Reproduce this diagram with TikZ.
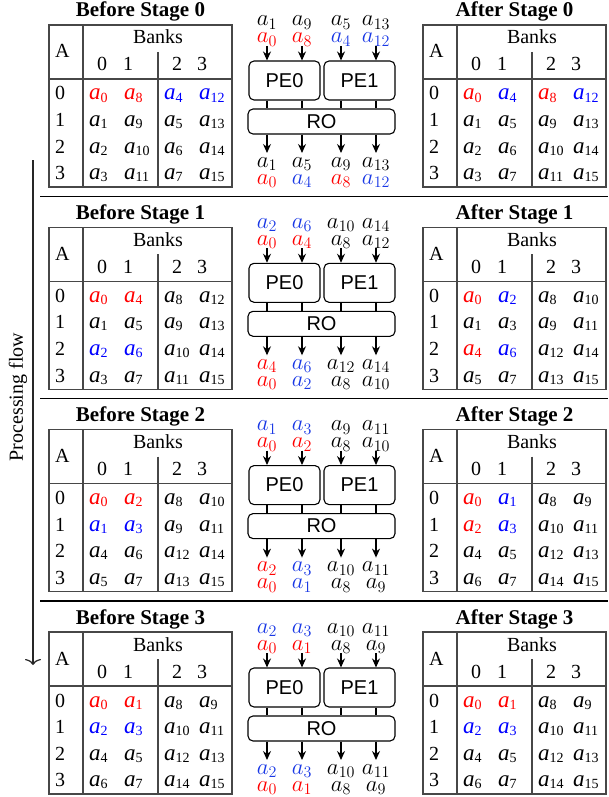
\documentclass[tikz,border=0pt]{standalone}
\usepackage{fix-cm}
\usepackage{fontspec}
\setmainfont{Liberation Serif}
\newfontfamily\pesans{Liberation Sans}
\usetikzlibrary{arrows.meta}
\definecolor{cr}{rgb}{1,0,0}
\definecolor{cb}{rgb}{0,0,1}
\definecolor{ck}{rgb}{0,0,0}
\definecolor{pb}{rgb}{0.1,0.22,0.9}
\definecolor{tline}{gray}{0.28}
\newcommand\tabent[2]{\textcolor{#1}{\fontsize{23}{24}\selectfont\itshape a\raisebox{-2pt}{\fontsize{14}{14}\selectfont\upshape #2}}}
\tikzset{
  tblline/.style={draw=tline, line width=1.2pt},
  ttl/.style={font=\fontsize{21}{23}\selectfont\bfseries, inner sep=0pt, anchor=base},
  hdr/.style={font=\fontsize{20}{22}\selectfont, inner sep=0pt},
  cell/.style={inner sep=0pt, anchor=base west},
  lbl/.style={font=\fontsize{23}{24}\selectfont, inner sep=0pt, anchor=base},
  pebox/.style={draw, line width=1.1pt, rounded corners=5pt, minimum width=71pt, minimum height=39pt, inner sep=0pt, font=\pesans\fontsize{20}{22}\selectfont},
  robox/.style={draw, line width=1.1pt, rounded corners=5pt, minimum width=147pt, minimum height=25pt, inner sep=0pt, font=\pesans\fontsize{20}{22}\selectfont},
  arr/.style={line width=1.2pt, -{Stealth[length=9pt,width=8pt]}},
  conn/.style={line width=1.1pt},
  sepline/.style={line width=1.3pt},
  flowarr/.style={line width=1.2pt, draw=black!85, -{Computer Modern Rightarrow[length=6pt,width=16pt]}},
}
\newcommand\stagetable[8]{%
 \begin{scope}[shift={(#2,#3)}]
  \node[ttl] (#1-title) at (91.5,-8) {#4};
  \draw[tblline] (0,0) rectangle (183,162);
  \draw[tblline] (34,0) -- (34,162);
  \draw[tblline] (0,54) -- (183,54);
  \draw[tblline] (109,27) -- (109,162);
  \node[hdr, anchor=base west] (#1-A) at (6,33) {A};
  \node[hdr, anchor=base] (#1-banks) at (109,19) {Banks};
  \node[hdr, anchor=base] (#1-h0) at (53,46) {0};
  \node[hdr, anchor=base] (#1-h1) at (79,46) {1};
  \node[hdr, anchor=base] (#1-h2) at (128,46) {2};
  \node[hdr, anchor=base] (#1-h3) at (153,46) {3};
  \foreach \rowlist [count=\rr from 0] in {{#5},{#6},{#7},{#8}} {
    \pgfmathsetmacro\yy{75+26.6*\rr}
    \node[hdr, anchor=base west] (#1-r\rr) at (6,\yy) {\rr};
    \foreach \kc/\kn [count=\ii from 0] in \rowlist {
      \pgfmathsetmacro\xx{40+35*\ii+5*(\ii>1)}
      \node[cell] (#1-\rr-\ii) at (\xx,\yy) {\tabent{\kc}{\kn}};
    }
  }
 \end{scope}}
\newcommand\peblock[6]{%
 \begin{scope}[shift={(0,#2)}]
  \node[pebox] (#1-pe0) at (284.5,80.5) {PE0};
  \node[pebox] (#1-pe1) at (359.5,80.5) {PE1};
  \node[robox] (#1-ro) at (321.5,121.5) {RO};
  \foreach \ii in {1,...,4} {
    \pgfmathsetmacro\xx{267+35*(\ii-1)+4*(\ii>2)}
    \coordinate (#1-in\ii) at (\xx,46);
    \coordinate (#1-out\ii) at (\xx,153);
  }
  \foreach \kc/\kn [count=\ii] in {#3} {
    \pgfmathsetmacro\xx{267+35*(\ii-1)+4*(\ii>2)}
    \node[lbl] (#1-ta\ii) at (\xx,26) {$\color{\kc}a_{\kn}$};}
  \foreach \kc/\kn [count=\ii] in {#4} {
    \pgfmathsetmacro\xx{267+35*(\ii-1)+4*(\ii>2)}
    \node[lbl] (#1-tb\ii) at (\xx,43) {$\color{\kc}a_{\kn}$};}
  \foreach \kc/\kn [count=\ii] in {#5} {
    \pgfmathsetmacro\xx{267+35*(\ii-1)+4*(\ii>2)}
    \node[lbl] (#1-oa\ii) at (\xx,167) {$\color{\kc}a_{\kn}$};}
  \foreach \kc/\kn [count=\ii] in {#6} {
    \pgfmathsetmacro\xx{267+35*(\ii-1)+4*(\ii>2)}
    \node[lbl] (#1-ob\ii) at (\xx,184) {$\color{\kc}a_{\kn}$};}
  \foreach \ii/\pe in {1/pe0,2/pe0,3/pe1,4/pe1} {
    \draw[arr] (#1-in\ii) -- (#1-in\ii |- #1-\pe.north);
    \draw[conn] (#1-in\ii |- #1-\pe.south) -- (#1-in\ii |- #1-ro.north);
    \draw[arr] (#1-in\ii |- #1-ro.south) -- (#1-out\ii);
  }
 \end{scope}}
\begin{document}
\begin{tikzpicture}[x=1pt,y=-1pt]
\useasboundingbox (0,0) rectangle (608,797);
% separators
\coordinate (s1l) at (40,196.5); \coordinate (s1r) at (608,196.5);
\coordinate (s2l) at (40,398.8); \coordinate (s2r) at (608,398.8);
\coordinate (s3l) at (40,601.1); \coordinate (s3r) at (608,601.1);
\draw[sepline] (s1l) -- (s1r);
\draw[sepline] (s2l) -- (s2r);
\draw[sepline] (s3l) -- (s3r);
% flow arrow
\coordinate (flowtop) at (33,160);
\coordinate (flowend) at (33,665);
\draw[flowarr] (flowtop) -- (flowend);
\node[font=\fontsize{20}{22}\selectfont, rotate=90, inner sep=0pt] (flowlabel) at (18,397) {Processing flow};
% stage 0
\stagetable{b0}{49}{25}{Before Stage 0}{cr/0,cr/8,cb/4,cb/12}{ck/1,ck/9,ck/5,ck/13}{ck/2,ck/10,ck/6,ck/14}{ck/3,ck/11,ck/7,ck/15}
\peblock{p0}{0}{ck/1,ck/9,ck/5,ck/13}{cr/0,cr/8,pb/4,pb/12}{ck/1,ck/5,ck/9,ck/13}{cr/0,pb/4,cr/8,pb/12}
\stagetable{a0}{423}{25}{After Stage 0}{cr/0,cb/4,cr/8,cb/12}{ck/1,ck/5,ck/9,ck/13}{ck/2,ck/6,ck/10,ck/14}{ck/3,ck/7,ck/11,ck/15}
% stage 1
\stagetable{b1}{49}{227.3}{Before Stage 1}{cr/0,cr/4,ck/8,ck/12}{ck/1,ck/5,ck/9,ck/13}{cb/2,cb/6,ck/10,ck/14}{ck/3,ck/7,ck/11,ck/15}
\peblock{p1}{202.3}{pb/2,pb/6,ck/10,ck/14}{cr/0,cr/4,ck/8,ck/12}{cr/4,pb/6,ck/12,ck/14}{cr/0,pb/2,ck/8,ck/10}
\stagetable{a1}{423}{227.3}{After Stage 1}{cr/0,cb/2,ck/8,ck/10}{ck/1,ck/3,ck/9,ck/11}{cr/4,cb/6,ck/12,ck/14}{ck/5,ck/7,ck/13,ck/15}
% stage 2
\stagetable{b2}{49}{429.6}{Before Stage 2}{cr/0,cr/2,ck/8,ck/10}{cb/1,cb/3,ck/9,ck/11}{ck/4,ck/6,ck/12,ck/14}{ck/5,ck/7,ck/13,ck/15}
\peblock{p2}{404.6}{pb/1,pb/3,ck/9,ck/11}{cr/0,cr/2,ck/8,ck/10}{cr/2,pb/3,ck/10,ck/11}{cr/0,pb/1,ck/8,ck/9}
\stagetable{a2}{423}{429.6}{After Stage 2}{cr/0,cb/1,ck/8,ck/9}{cr/2,cb/3,ck/10,ck/11}{ck/4,ck/5,ck/12,ck/13}{ck/6,ck/7,ck/14,ck/15}
% stage 3
\stagetable{b3}{49}{632}{Before Stage 3}{cr/0,cr/1,ck/8,ck/9}{cb/2,cb/3,ck/10,ck/11}{ck/4,ck/5,ck/12,ck/13}{ck/6,ck/7,ck/14,ck/15}
\peblock{p3}{607}{pb/2,pb/3,ck/10,ck/11}{cr/0,cr/1,ck/8,ck/9}{pb/2,pb/3,ck/10,ck/11}{cr/0,cr/1,ck/8,ck/9}
\stagetable{a3}{423}{632}{After Stage 3}{cr/0,cr/1,ck/8,ck/9}{cb/2,cb/3,ck/10,ck/11}{ck/4,ck/5,ck/12,ck/13}{ck/6,ck/7,ck/14,ck/15}
\end{tikzpicture}
\end{document}
